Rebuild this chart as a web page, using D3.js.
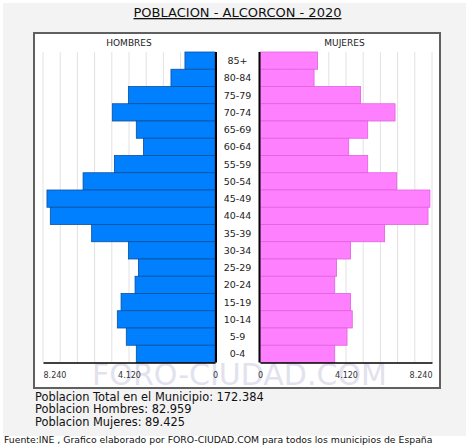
<!DOCTYPE html>
<html>
<head>
<meta charset="utf-8">
<script src="https://cdn.jsdelivr.net/npm/d3@7"></script>
<style>
  body { margin: 0; background: #fff; }
  svg text { font-family: "DejaVu Sans", Verdana, sans-serif; }
</style>
</head>
<body>
<div id="chart"></div>
<script>
(function(){

// age groups, top to bottom
let ages = ["85+", "80-84", "75-79", "70-74", "65-69", "60-64", "55-59", "50-54", "45-49",
            "40-44", "35-39", "30-34", "25-29", "20-24", "15-19", "10-14", "5-9", "0-4"];
let hombres = [1440, 2110, 4150, 4920, 3770, 3430, 4820, 6320, 8050,
               7890, 5910, 4150, 3670, 3830, 4500, 4680, 4250, 3770];
let mujeres = [2760, 2590, 4820, 6470, 5160, 4250, 5160, 6550, 8140,
               8050, 5970, 4340, 3670, 3580, 4340, 4420, 4170, 3580];
let tickValues = [8240, 4120, 0];
let gridValues = d3.range(0, 8241, 824);

let titulo = "POBLACION - ALCORCON - 2020";
let resumen = ["Poblacion Total en el Municipio: 172.384",
               "Poblacion Hombres: 82.959",
               "Poblacion Mujeres: 89.425"];
let fuente = "Fuente:INE , Grafico elaborado por FORO-CIUDAD.COM para todos los municipios de España";

let width = 474, height = 448;
let es = d3.formatLocale({decimal: ",", thousands: ".", grouping: [3], currency: ["", "€"]});
let fmt = es.format(",d");

let svg = d3.select("#chart").append("svg")
    .attr("width", width)
    .attr("height", height);

// grey panel and white plot box
svg.append("rect")
    .attr("x", 3).attr("y", 3)
    .attr("width", 463).attr("height", 433)
    .attr("fill", "#f3f3f3");

svg.append("rect")
    .attr("x", 34).attr("y", 33)
    .attr("width", 406).attr("height", 355)
    .attr("fill", "#fff")
    .attr("stroke", "#606060")
    .attr("stroke-width", 2);

// title, underlined
svg.append("text")
    .attr("x", 237.5).attr("y", 17)
    .attr("text-anchor", "middle")
    .style("font-size", "13px")
    .style("text-decoration", "underline")
    .attr("fill", "#111")
    .text(titulo);

let xL = d3.scaleLinear().domain([0, 8240]).range([215, 43]);
let xR = d3.scaleLinear().domain([0, 8240]).range([260, 432]);
let y = d3.scaleBand().domain(ages).range([52, 362.5]).padding(0);

// watermark
svg.append("text")
    .attr("x", 239.5).attr("y", 385)
    .attr("text-anchor", "middle")
    .style("font-size", "30px")
    .attr("fill", "#e2e2ee")
    .text("FORO-CIUDAD.COM");

// vertical grid
[xL, xR].forEach(function(x){
  svg.append("g")
    .selectAll("line")
    .data(gridValues)
    .enter().append("line")
      .attr("x1", d => x(d)).attr("x2", d => x(d))
      .attr("y1", 52).attr("y2", 362.5)
      .attr("stroke", "#e2e2e2")
      .attr("stroke-width", 1);
});

// bars
svg.append("g")
  .selectAll("rect")
  .data(hombres)
  .enter().append("rect")
    .attr("x", d => xL(d))
    .attr("y", (d, i) => y(ages[i]))
    .attr("width", d => xL(0) - xL(d))
    .attr("height", y.bandwidth())
    .attr("fill", "#0080ff")
    .attr("stroke", "#0a4f9a")
    .attr("stroke-width", 0.8);

svg.append("g")
  .selectAll("rect")
  .data(mujeres)
  .enter().append("rect")
    .attr("x", xR(0))
    .attr("y", (d, i) => y(ages[i]))
    .attr("width", d => xR(d) - xR(0))
    .attr("height", y.bandwidth())
    .attr("fill", "#ff80ff")
    .attr("stroke", "#e060e0")
    .attr("stroke-width", 0.8);

// black centre lines
[xL(0) + 1, xR(0) - 0.5].forEach(function(cx){
  svg.append("line")
    .attr("x1", cx).attr("x2", cx)
    .attr("y1", 52).attr("y2", 362.5)
    .attr("stroke", "#000")
    .attr("stroke-width", 2);
});

// age labels
svg.append("g")
  .selectAll("text")
  .data(ages)
  .enter().append("text")
    .attr("x", 237.5)
    .attr("y", d => y(d) + y.bandwidth() / 2)
    .attr("dy", "0.36em")
    .attr("text-anchor", "middle")
    .style("font-size", "9.5px")
    .attr("fill", "#222")
    .text(d => d);

// headers
svg.append("text")
    .attr("x", 129).attr("y", 46)
    .attr("text-anchor", "middle")
    .style("font-size", "9px")
    .attr("fill", "#222")
    .text("HOMBRES");

svg.append("text")
    .attr("x", 344.5).attr("y", 46)
    .attr("text-anchor", "middle")
    .style("font-size", "9px")
    .attr("fill", "#222")
    .text("MUJERES");

// bottom axes
function drawAxis(x, side)
{
  let g = svg.append("g")
      .attr("transform", "translate(0,362.5)")
      .call(d3.axisBottom(x).tickValues(tickValues).tickSize(0).tickPadding(10).tickFormat(fmt));

  g.select(".domain").attr("stroke", "#000").attr("stroke-width", 1.5);
  g.selectAll("text")
      .style("font-size", "8px")
      .style("font-family", "\"DejaVu Sans\", Verdana, sans-serif")
      .attr("fill", "#333")
      .attr("text-anchor", d => d === 8240 ? (side === "left" ? "start" : "end") : "middle");
}
drawAxis(xL, "left");
drawAxis(xR, "right");

// totals
svg.append("g")
  .selectAll("text")
  .data(resumen)
  .enter().append("text")
    .attr("x", 35)
    .attr("y", (d, i) => 401 + i * 12.3)
    .style("font-size", "11.4px")
    .attr("fill", "#111")
    .text(d => d);

svg.append("text")
    .attr("x", 4).attr("y", 443)
    .style("font-size", "9.3px")
    .attr("fill", "#111")
    .text(fuente);

})();
</script>
</body>
</html>
